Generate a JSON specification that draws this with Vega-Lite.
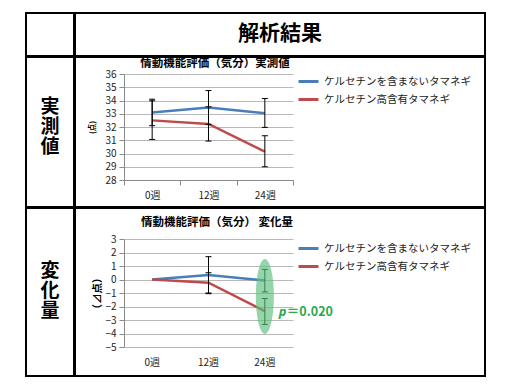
{
  "$schema": "https://vega.github.io/schema/vega-lite/v6.json",
  "background": "white",
  "padding": {"left": 25, "top": 12, "right": 0, "bottom": 0},
  "spacing": -4,
  "resolve": {"scale": {"color": "independent", "x": "independent", "y": "independent"}, "legend": {"color": "independent"}},
  "config": {
    "font": "Noto Sans CJK JP",
    "view": {"stroke": "black", "strokeWidth": 2},
    "axis": {"labelFont": "Noto Sans CJK JP", "labelColor": "#222222", "domainColor": "#8a8a8a", "tickColor": "#8a8a8a", "gridColor": "#b8b8b8", "labelFontSize": 10, "labelOverlap": false},
    "legend": {"labelFont": "Noto Sans CJK JP"}
  },
  "datasets": {
    "actual": [
      {"week": "0週", "group": "ケルセチンを含まないタマネギ", "value": 33.1, "low": 32.1, "high": 34.1},
      {"week": "12週", "group": "ケルセチンを含まないタマネギ", "value": 33.48, "low": 32.2, "high": 34.75},
      {"week": "24週", "group": "ケルセチンを含まないタマネギ", "value": 33.03, "low": 31.97, "high": 34.15},
      {"week": "0週", "group": "ケルセチン高含有タマネギ", "value": 32.5, "low": 31.06, "high": 33.98},
      {"week": "12週", "group": "ケルセチン高含有タマネギ", "value": 32.23, "low": 30.94, "high": 33.52},
      {"week": "24週", "group": "ケルセチン高含有タマネギ", "value": 30.15, "low": 29.0, "high": 31.34}
    ],
    "change": [
      {"week": "0週", "group": "ケルセチンを含まないタマネギ", "value": 0},
      {"week": "12週", "group": "ケルセチンを含まないタマネギ", "value": 0.33, "low": -1.05, "high": 1.69},
      {"week": "24週", "group": "ケルセチンを含まないタマネギ", "value": -0.07, "low": -0.92, "high": 0.75},
      {"week": "0週", "group": "ケルセチン高含有タマネギ", "value": 0},
      {"week": "12週", "group": "ケルセチン高含有タマネギ", "value": -0.24, "low": -1.0, "high": 0.5},
      {"week": "24週", "group": "ケルセチン高含有タマネギ", "value": -2.35, "low": -3.33, "high": -1.41}
    ]
  },
  "vconcat": [
    {
      "spacing": -4,
      "hconcat": [
        {"width": 48, "height": 43, "data": {"values": [{"label": ""}]}, "mark": {"type": "text"},
         "encoding": {"text": {"field": "label"},
           "x": {"datum": 0, "type": "quantitative", "scale": {"domain": [-1, 1]}, "axis": null},
           "y": {"datum": 0, "type": "quantitative", "scale": {"domain": [-1, 1]}, "axis": null}}},
        {"width": 410, "height": 43, "data": {"values": [{"label": "解析結果"}]},
         "mark": {"type": "text", "fontSize": 21, "fontWeight": "bold", "font": "Noto Sans CJK JP", "color": "black", "dy": -1},
         "encoding": {"text": {"field": "label"},
           "x": {"datum": 0, "type": "quantitative", "scale": {"domain": [-1, 1]}, "axis": null},
           "y": {"datum": 0, "type": "quantitative", "scale": {"domain": [-1, 1]}, "axis": null}}}
      ]
    },
    {
      "spacing": -4,
      "resolve": {"scale": {"color": "independent"}, "legend": {"color": "independent"}},
      "hconcat": [
        {"width": 48, "height": 150, "data": {"values": [{"label": "実\n測\n値"}]},
         "mark": {"type": "text", "fontSize": 19, "fontWeight": "bold", "lineBreak": "\n", "lineHeight": 20, "color": "black", "dy": -25.5, "dx": 0},
         "encoding": {"text": {"field": "label"},
           "x": {"datum": 0, "type": "quantitative", "scale": {"domain": [-1, 1]}, "axis": null},
           "y": {"datum": 0, "type": "quantitative", "scale": {"domain": [-1, 1]}, "axis": null}}},
        {
          "width": 410, "height": 150,
          "title": {"text": "情動機能評価（気分）実測値", "fontSize": 11.5, "fontWeight": "bold", "font": "Noto Sans CJK JP", "offset": -12, "dx": -65, "anchor": "middle", "frame": "group", "color": "black"},
          "data": {"name": "actual"},
          "encoding": {
            "x": {"field": "week", "type": "ordinal", "sort": ["0週", "12週", "24週"],
                  "scale": {"type": "band", "range": [49, 218], "paddingInner": 0, "paddingOuter": 0},
                  "axis": {"title": null, "offset": -27, "labelAngle": 0, "tickBand": "extent", "tickSize": 5, "labelPadding": 5, "grid": false}}
          },
          "layer": [
            {"mark": {"type": "line", "strokeWidth": 2.5},
             "encoding": {
               "y": {"field": "value", "type": "quantitative",
                     "scale": {"domain": [28, 36], "range": [123, 17], "nice": false, "zero": false},
                     "axis": {"offset": -49, "values": [28, 29, 30, 31, 32, 33, 34, 35, 36], "tickCount": 9, "title": "(点)", "titleFontSize": 7.5, "titleFontWeight": "bold", "titlePadding": 8, "tickSize": 5, "labelPadding": 3, "grid": true}},
               "color": {"field": "group", "type": "nominal",
                         "scale": {"domain": ["ケルセチンを含まないタマネギ", "ケルセチン高含有タマネギ"], "range": ["#4a7ebb", "#be4b48"]},
                         "legend": {"orient": "none", "legendX": 222, "legendY": 13, "title": null, "symbolType": "stroke", "symbolStrokeWidth": 3, "symbolSize": 400, "labelFontSize": 10.5, "labelColor": "#222222", "rowPadding": 0, "labelOffset": 4}}
             }},
            {"transform": [{"filter": "datum.low != null"}],
             "mark": {"type": "rule", "color": "black", "strokeWidth": 1},
             "encoding": {"y": {"field": "low", "type": "quantitative", "axis": {"offset": -49, "values": [28, 29, 30, 31, 32, 33, 34, 35, 36], "tickCount": 9, "title": "(点)", "titleFontSize": 7.5, "titleFontWeight": "bold", "titlePadding": 8, "tickSize": 5, "labelPadding": 3, "grid": true}}, "y2": {"field": "high"}}},
            {"transform": [{"filter": "datum.low != null"}],
             "mark": {"type": "tick", "color": "black", "thickness": 1, "size": 6, "opacity": 1},
             "encoding": {"y": {"field": "low", "type": "quantitative", "axis": {"offset": -49, "values": [28, 29, 30, 31, 32, 33, 34, 35, 36], "tickCount": 9, "title": "(点)", "titleFontSize": 7.5, "titleFontWeight": "bold", "titlePadding": 8, "tickSize": 5, "labelPadding": 3, "grid": true}}}},
            {"transform": [{"filter": "datum.high != null"}],
             "mark": {"type": "tick", "color": "black", "thickness": 1, "size": 6, "opacity": 1},
             "encoding": {"y": {"field": "high", "type": "quantitative", "axis": {"offset": -49, "values": [28, 29, 30, 31, 32, 33, 34, 35, 36], "tickCount": 9, "title": "(点)", "titleFontSize": 7.5, "titleFontWeight": "bold", "titlePadding": 8, "tickSize": 5, "labelPadding": 3, "grid": true}}}}
          ]
        }
      ]
    },
    {
      "spacing": -4,
      "resolve": {"scale": {"color": "independent"}, "legend": {"color": "independent"}},
      "hconcat": [
        {"width": 48, "height": 168, "data": {"values": [{"label": "変\n化\n量"}]},
         "mark": {"type": "text", "fontSize": 19, "fontWeight": "bold", "lineBreak": "\n", "lineHeight": 20, "color": "black", "dy": -21, "dx": 0},
         "encoding": {"text": {"field": "label"},
           "x": {"datum": 0, "type": "quantitative", "scale": {"domain": [-1, 1]}, "axis": null},
           "y": {"datum": 0, "type": "quantitative", "scale": {"domain": [-1, 1]}, "axis": null}}},
        {
          "width": 410, "height": 168,
          "title": {"text": "情動機能評価（気分） 変化量", "fontSize": 11.5, "fontWeight": "bold", "font": "Noto Sans CJK JP", "offset": -20, "dx": -63, "anchor": "middle", "frame": "group", "color": "black"},
          "data": {"name": "change"},
          "encoding": {
            "x": {"field": "week", "type": "ordinal", "sort": ["0週", "12週", "24週"],
                  "scale": {"type": "band", "range": [49, 218], "paddingInner": 0, "paddingOuter": 0},
                  "axis": {"title": null, "offset": -29, "labelAngle": 0, "ticks": false, "domain": false, "labelPadding": 10, "grid": false}}
          },
          "layer": [
            {"mark": {"type": "line", "strokeWidth": 2.5},
             "encoding": {
               "y": {"field": "value", "type": "quantitative",
                     "scale": {"domain": [-5, 3], "range": [139, 31], "nice": false, "zero": false},
                     "axis": {"offset": -49, "values": [-5, -4, -3, -2, -1, 0, 1, 2, 3], "tickCount": 9, "title": "（⊿点）", "titleFontSize": 10.5, "titleFontWeight": "bold", "titlePadding": 2, "tickSize": 5, "labelPadding": 3, "grid": true}},
               "color": {"field": "group", "type": "nominal",
                         "scale": {"domain": ["ケルセチンを含まないタマネギ", "ケルセチン高含有タマネギ"], "range": ["#4a7ebb", "#be4b48"]},
                         "legend": {"orient": "none", "legendX": 222, "legendY": 29, "title": null, "symbolType": "stroke", "symbolStrokeWidth": 3, "symbolSize": 400, "labelFontSize": 10.5, "labelColor": "#222222", "rowPadding": 0, "labelOffset": 4}}
             }},
            {"transform": [{"filter": "datum.low != null"}],
             "mark": {"type": "rule", "color": "black", "strokeWidth": 1},
             "encoding": {"y": {"field": "low", "type": "quantitative", "axis": {"offset": -49, "values": [-5, -4, -3, -2, -1, 0, 1, 2, 3], "tickCount": 9, "title": "（⊿点）", "titleFontSize": 10.5, "titleFontWeight": "bold", "titlePadding": 2, "tickSize": 5, "labelPadding": 3, "grid": true}}, "y2": {"field": "high"}}},
            {"transform": [{"filter": "datum.low != null"}],
             "mark": {"type": "tick", "color": "black", "thickness": 1, "size": 6, "opacity": 1},
             "encoding": {"y": {"field": "low", "type": "quantitative", "axis": {"offset": -49, "values": [-5, -4, -3, -2, -1, 0, 1, 2, 3], "tickCount": 9, "title": "（⊿点）", "titleFontSize": 10.5, "titleFontWeight": "bold", "titlePadding": 2, "tickSize": 5, "labelPadding": 3, "grid": true}}}},
            {"transform": [{"filter": "datum.high != null"}],
             "mark": {"type": "tick", "color": "black", "thickness": 1, "size": 6, "opacity": 1},
             "encoding": {"y": {"field": "high", "type": "quantitative", "axis": {"offset": -49, "values": [-5, -4, -3, -2, -1, 0, 1, 2, 3], "tickCount": 9, "title": "（⊿点）", "titleFontSize": 10.5, "titleFontWeight": "bold", "titlePadding": 2, "tickSize": 5, "labelPadding": 3, "grid": true}}}},
            {"data": {"values": [{"week": "24週", "center": -1.25, "labelY": -2.4, "p": "p", "eq": "＝0.020"}]},
             "layer": [
               {"mark": {"type": "point", "shape": "M0,-1A0.24,1 0 1,1 0,1A0.24,1 0 1,1 0,-1Z", "size": 5625, "filled": true, "color": "#5cbf7d", "opacity": 0.65, "strokeWidth": 0},
                "encoding": {"y": {"field": "center", "type": "quantitative"}}},
               {"mark": {"type": "text", "align": "left", "baseline": "middle", "dx": 14, "fontSize": 13, "fontStyle": "italic", "fontWeight": "bold", "color": "#2aa84f", "font": "Noto Sans"},
                "encoding": {"y": {"field": "labelY", "type": "quantitative"}, "text": {"field": "p"}}},
               {"mark": {"type": "text", "align": "left", "baseline": "middle", "dx": 22, "fontSize": 12.5, "fontWeight": "bold", "color": "#2aa84f"},
                "encoding": {"y": {"field": "labelY", "type": "quantitative"}, "text": {"field": "eq"}}}
             ]}
          ]
        }
      ]
    }
  ]
}
